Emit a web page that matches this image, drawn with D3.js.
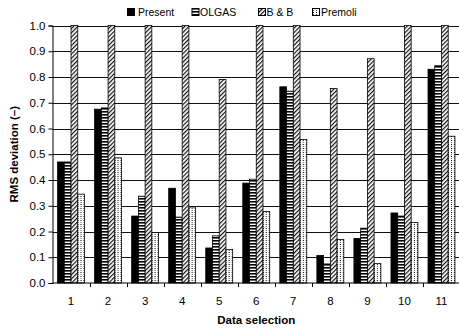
<!DOCTYPE html>
<html>
<head>
<meta charset="utf-8">
<script src="https://cdn.jsdelivr.net/npm/d3@7"></script>
<style>
  html, body { margin: 0; padding: 0; background: #fff; }
  svg { display: block; font-family: "Liberation Sans", Arial, sans-serif; }
</style>
</head>
<body>
<svg id="chart" width="459" height="331"></svg>
<script>
// Data selections on the x axis
const categories = ["1", "2", "3", "4", "5", "6", "7", "8", "9", "10", "11"];
// Correlation names, in legend order
const seriesNames = ["Present", "OLGAS", "B & B", "Premoli"];
// RMS deviation per data selection for each correlation (B & B runs off the top of the scale)
const present = [0.47, 0.675, 0.26, 0.368, 0.136, 0.388, 0.762, 0.107, 0.173, 0.272, 0.83];
const olgas   = [0.47, 0.68, 0.337, 0.256, 0.183, 0.403, 0.745, 0.074, 0.213, 0.26, 0.844];
const bAndB   = [1.0, 1.0, 1.0, 1.0, 0.79, 1.0, 1.0, 0.755, 0.871, 1.0, 1.0];
const premoli = [0.345, 0.486, 0.196, 0.295, 0.13, 0.278, 0.557, 0.169, 0.076, 0.235, 0.57];
const yTicks = [0.0, 0.1, 0.2, 0.3, 0.4, 0.5, 0.6, 0.7, 0.8, 0.9, 1.0];

const seriesValues = [present, olgas, bAndB, premoli];
const fills = ["#000", "url(#hstripe)", "url(#diag)", "url(#dots)"];

const svg = d3.select("#chart");
const plotLeft = 52.5, plotRight = 460, plotTop = 25.5, plotBottom = 283;

// Fill patterns for the bars
const defs = svg.append("defs");
const hs = defs.append("pattern").attr("id", "hstripe").attr("patternUnits", "userSpaceOnUse")
  .attr("width", 4).attr("height", 3);
hs.append("rect").attr("width", 4).attr("height", 3).attr("fill", "#fff");
hs.append("rect").attr("y", 0).attr("width", 4).attr("height", 1.6).attr("fill", "#000");

const dg = defs.append("pattern").attr("id", "diag").attr("patternUnits", "userSpaceOnUse")
  .attr("width", 3).attr("height", 3).attr("patternTransform", "rotate(45)");
dg.append("rect").attr("width", 3).attr("height", 3).attr("fill", "#fff");
dg.append("rect").attr("x", 0).attr("width", 1.2).attr("height", 3).attr("fill", "#111");

const dt = defs.append("pattern").attr("id", "dots").attr("patternUnits", "userSpaceOnUse")
  .attr("width", 3).attr("height", 4);
dt.append("rect").attr("width", 3).attr("height", 4).attr("fill", "#fff");
dt.append("rect").attr("x", 1).attr("y", 0).attr("width", 1).attr("height", 1).attr("fill", "#000");
dt.append("rect").attr("x", 1).attr("y", 2).attr("width", 1).attr("height", 1).attr("fill", "#555");

// Scales
const x = d3.scaleBand().domain(categories).range([plotLeft, plotRight]).paddingInner(0).paddingOuter(0);
const barW = x.bandwidth() / 5.5;
const xs = d3.scaleBand().domain(seriesNames)
  .range([0.75 * barW, 4.75 * barW]).padding(0);
const y = d3.scaleLinear().domain([0, 1]).range([plotBottom, plotTop]);

// Horizontal gridlines
svg.append("g").selectAll("line").data(yTicks.filter(d => d > 0)).join("line")
  .attr("x1", plotLeft).attr("x2", plotRight)
  .attr("y1", d => Math.round(y(d)) + 0.5).attr("y2", d => Math.round(y(d)) + 0.5)
  .attr("stroke", "#111").attr("stroke-width", 1);

// Bars
const groups = svg.append("g").selectAll("g").data(categories).join("g")
  .attr("transform", d => `translate(${x(d)},0)`);
groups.selectAll("rect").data((c, i) => seriesNames.map((s, k) => ({ s, k, v: seriesValues[k][i] })))
  .join("rect")
  .attr("x", d => xs(d.s))
  .attr("y", d => y(d.v))
  .attr("width", xs.bandwidth())
  .attr("height", d => y(0) - y(d.v))
  .attr("fill", d => fills[d.k])
  .attr("stroke", "#000")
  .attr("stroke-width", 0.8);

// Y axis
const yAxis = d3.axisLeft(y).tickValues(yTicks).tickSize(4).tickFormat(d3.format(".1f"));
const gy = svg.append("g").attr("transform", `translate(${plotLeft},0)`).call(yAxis);
gy.select(".domain").attr("stroke", "#000");
gy.selectAll(".tick line").attr("stroke", "#000");
gy.selectAll(".tick text").attr("font-size", 11.5).attr("fill", "#000")
  .attr("font-family", "Liberation Sans, Arial, sans-serif").attr("x", -7);

// X axis: labels centred in each category, tick marks at category boundaries
const gx = svg.append("g").attr("transform", `translate(0,${plotBottom})`);
gx.append("line").attr("x1", plotLeft).attr("x2", plotRight).attr("stroke", "#000");
gx.selectAll("line.tk").data(categories.slice(1)).join("line").attr("class", "tk")
  .attr("x1", d => Math.round(x(d)) + 0.5).attr("x2", d => Math.round(x(d)) + 0.5)
  .attr("y1", 0).attr("y2", 4).attr("stroke", "#000");
gx.selectAll("text").data(categories).join("text")
  .attr("x", d => x(d) + x.bandwidth() / 2).attr("y", 22)
  .attr("text-anchor", "middle").attr("font-size", 11.5).text(d => d);

// Axis titles
svg.append("text").attr("x", (plotLeft + plotRight) / 2).attr("y", 324)
  .attr("text-anchor", "middle").attr("font-size", 11.5).attr("font-weight", "bold")
  .text("Data selection");
svg.append("text").attr("transform", `translate(18,${(plotTop + plotBottom) / 2}) rotate(-90)`)
  .attr("text-anchor", "middle").attr("font-size", 11.5).attr("font-weight", "bold")
  .text("RMS deviation (–)");

// Legend
const legendX = [127, 191.5, 258, 312];
const legendTextDx = [11, 8.5, 8.5, 9];
const lg = svg.append("g").selectAll("g").data(seriesNames).join("g")
  .attr("transform", (d, i) => `translate(${legendX[i]},8)`);
lg.append("rect").attr("x", 0.5).attr("y", 0.5).attr("width", 7).attr("height", 7)
  .attr("fill", (d, i) => fills[i]).attr("stroke", "#000").attr("stroke-width", 1);
lg.append("text").attr("x", (d, i) => legendTextDx[i]).attr("y", 8)
  .attr("font-size", 10.5).text(d => d);
</script>
</body>
</html>
